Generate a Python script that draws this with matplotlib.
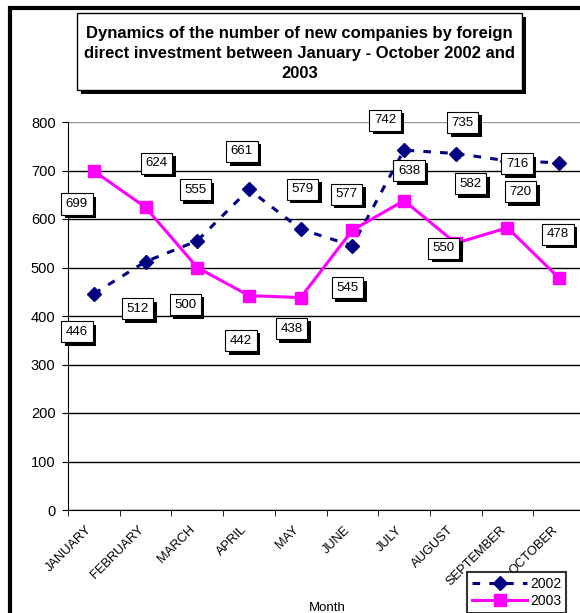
import matplotlib
matplotlib.use('Agg')
import matplotlib.pyplot as plt
import matplotlib.patheffects as pe
import matplotlib.transforms as mtransforms
from matplotlib.patches import Rectangle
import numpy as np

plt.rcParams['font.family'] = ['Liberation Sans', 'DejaVu Sans']

# Data
months = ['JANUARY', 'FEBRUARY', 'MARCH', 'APRIL', 'MAY', 'JUNE',
          'JULY', 'AUGUST', 'SEPTEMBER', 'OCTOBER']
new_2002 = [446, 512, 555, 661, 579, 545, 742, 735, 720, 716]
new_2003 = [699, 624, 500, 442, 438, 577, 638, 550, 582, 478]

# where each data label box sits relative to its point (pixels, x right / y up)
offsets_2002 = [(-17, -38), (-8, -47), (-2, 51), (-7, 38), (2, 40),
                (-5, -42), (-19, 30), (7, 31), (13, -31), (-42, -1)]
offsets_2003 = [(-17, -33), (11, 44), (-12, -37), (-8, -45), (-9, -31),
                (-6, 36), (5, 30), (-12, -5), (-37, 44), (-1, 44)]

W, H = 580, 613
fig = plt.figure(figsize=(W / 100, H / 100), dpi=100)

# outer chart border (thick, left + top visible)
fig.patches.append(Rectangle((10 / W, -0.1), 1.2, 1 - 8.5 / H + 0.1,
                             transform=fig.transFigure, fill=False,
                             edgecolor='black', linewidth=3))

# title box with drop shadow
bx0, bx1, by0, by1 = 77, 522, 13, 90
fig.patches.append(Rectangle(((bx0 + 4) / W, 1 - (by1 + 4) / H), (bx1 - bx0) / W,
                             (by1 - by0) / H, transform=fig.transFigure,
                             facecolor='black', edgecolor='black', linewidth=0))
fig.patches.append(Rectangle((bx0 / W, 1 - by1 / H), (bx1 - bx0) / W,
                             (by1 - by0) / H, transform=fig.transFigure,
                             facecolor='white', edgecolor='black', linewidth=1))
fig.text((bx0 + bx1) / 2 / W, 1 - (by0 + by1 + 4) / 2 / H,
         'Dynamics of the number of new companies by foreign\n'
         'direct investment between January - October 2002 and\n2003',
         ha='center', va='center', fontsize=12, fontweight='bold',
         linespacing=1.45)

ax = fig.add_axes([68 / W, 103 / H, 517 / W, 388 / H])
x = np.arange(len(months))

ax.plot(x, new_2002, color='#000080', linestyle='--', dashes=(2.5, 3),
        linewidth=2.2, marker='D', markersize=7, label='2002', zorder=3)
ax.plot(x, new_2003, color='#FF00FF', linewidth=2.2, marker='s',
        markersize=9, label='2003', zorder=3)

for vals, offs in ((new_2002, offsets_2002), (new_2003, offsets_2003)):
    for i, (v, o) in enumerate(zip(vals, offs)):
        t = ax.annotate(str(v), (x[i], v), xytext=o, textcoords='offset pixels',
                        ha='center', va='center', fontsize=9.5, zorder=5,
                        bbox=dict(boxstyle='square,pad=0.35', facecolor='white',
                                  edgecolor='black', linewidth=0.8))
        t.get_bbox_patch().set_path_effects(
            [pe.SimplePatchShadow(offset=(2.5, -2.5), shadow_rgbFace='black', alpha=1),
             pe.Normal()])

ax.set_xlim(-0.5, len(months) - 0.5)
ax.set_ylim(0, 800)
ax.set_yticks(range(0, 801, 100))
ax.tick_params(axis='y', labelsize=10.5, length=4, direction='out', pad=5)
ax.set_xticks(x)
ax.set_xticklabels(months, rotation=45, ha='right', rotation_mode='anchor',
                   fontsize=9.3)
ax.tick_params(axis='x', which='major', length=0, pad=10)
shift = mtransforms.ScaledTranslation(-8 / 100, 0, fig.dpi_scale_trans)
for lbl in ax.get_xticklabels():
    lbl.set_transform(lbl.get_transform() + shift)
ax.set_xticks(np.arange(-0.5, len(months), 1), minor=True)
ax.tick_params(axis='x', which='minor', length=4, direction='out')

ax.yaxis.grid(True, color='black', linewidth=1)
ax.set_axisbelow(True)
ax.get_ygridlines()[-1].set_color('#999999')
for s in ('top', 'right'):
    ax.spines[s].set_visible(False)

ax.set_xlabel('Month', fontsize=9.5)
ax.xaxis.set_label_coords((327 - 68) / 517, -(602 - 510) / 388)

leg = fig.legend(loc='upper left', bbox_to_anchor=(467 / W, 1 - 572 / H),
                 fontsize=10, frameon=True, fancybox=False, borderaxespad=0,
                 handlelength=4.0, handletextpad=0.2, borderpad=0.35,
                 labelspacing=0.2, numpoints=1)
leg.get_frame().set_edgecolor('black')
leg.get_frame().set_linewidth(1.5)

fig.savefig('out.png', dpi=100)
